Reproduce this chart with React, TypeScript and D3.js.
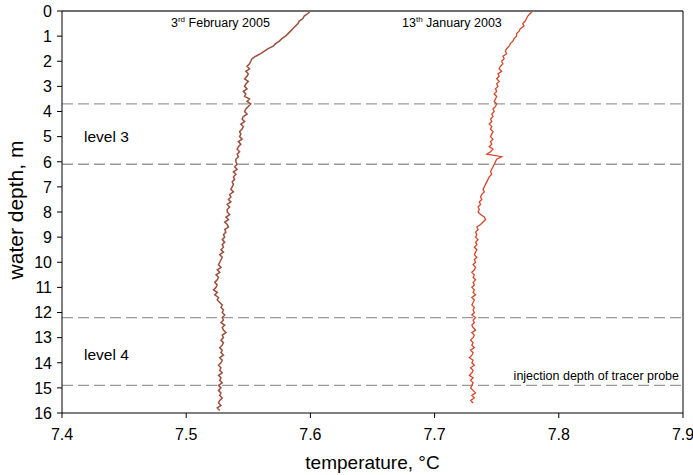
import React from "react";
import * as d3 from "d3";

// depth sampling step of both profiles (m)
const DEPTH_STEP = 0.1;

// 3rd February 2005 profile: temperature (°C) every 0.1 m from 0 m
const temp2005 = [
  7.600, 7.598, 7.595, 7.594, 7.591, 7.590, 7.588, 7.586, 7.584, 7.582,
  7.580, 7.577, 7.575, 7.572, 7.570, 7.566, 7.563, 7.560, 7.556, 7.553,
  7.552, 7.551, 7.549, 7.551, 7.548, 7.550, 7.549, 7.547, 7.550, 7.548,
  7.547, 7.549, 7.546, 7.548, 7.547, 7.551, 7.549, 7.552, 7.550, 7.548,
  7.547, 7.549, 7.546, 7.545, 7.547, 7.544, 7.546, 7.545, 7.543, 7.544,
  7.543, 7.545, 7.542, 7.544, 7.542, 7.541, 7.543, 7.541, 7.542, 7.540,
  7.540, 7.541, 7.539, 7.541, 7.538, 7.540, 7.538, 7.539, 7.537, 7.538,
  7.537, 7.536, 7.538, 7.535, 7.536, 7.534, 7.536, 7.533, 7.535, 7.533,
  7.533, 7.535, 7.532, 7.534, 7.531, 7.533, 7.534, 7.531, 7.532, 7.530,
  7.531, 7.529, 7.531, 7.529, 7.530, 7.528, 7.530, 7.527, 7.529, 7.528,
  7.527, 7.526, 7.528, 7.525, 7.527, 7.524, 7.526, 7.525, 7.523, 7.525,
  7.524, 7.522, 7.525, 7.523, 7.526, 7.525, 7.527, 7.529, 7.528, 7.530,
  7.529, 7.531, 7.529, 7.530, 7.528, 7.531, 7.529, 7.530, 7.532, 7.529,
  7.530, 7.528, 7.530, 7.529, 7.527, 7.529, 7.528, 7.530, 7.527, 7.529,
  7.528, 7.526, 7.528, 7.527, 7.529, 7.526, 7.528, 7.527, 7.529, 7.526,
  7.528, 7.526, 7.528, 7.527, 7.529, 7.527, 7.526, 7.528, 7.525, 7.527,
];

// 13th January 2003 profile: temperature (°C) every 0.1 m from 0 m
const temp2003 = [
  7.779, 7.777, 7.775, 7.774, 7.773, 7.771, 7.772, 7.769, 7.768, 7.766,
  7.766, 7.764, 7.763, 7.761, 7.760, 7.758, 7.757, 7.758, 7.755, 7.756,
  7.754, 7.755, 7.753, 7.752, 7.754, 7.751, 7.752, 7.750, 7.752, 7.750,
  7.751, 7.749, 7.750, 7.748, 7.750, 7.749, 7.748, 7.750, 7.749, 7.747,
  7.748, 7.746, 7.747, 7.745, 7.746, 7.744, 7.746, 7.745, 7.747, 7.746,
  7.745, 7.747, 7.745, 7.746, 7.744, 7.747, 7.745, 7.742, 7.754, 7.750,
  7.749, 7.748, 7.747, 7.746, 7.745, 7.746, 7.744, 7.743, 7.742, 7.741,
  7.740, 7.739, 7.740, 7.738, 7.737, 7.738, 7.736, 7.737, 7.735, 7.736,
  7.735, 7.737, 7.740, 7.741, 7.739, 7.737, 7.734, 7.735, 7.733, 7.734,
  7.733, 7.735, 7.733, 7.734, 7.732, 7.734, 7.733, 7.732, 7.734, 7.732,
  7.733, 7.731, 7.733, 7.732, 7.730, 7.732, 7.731, 7.733, 7.731, 7.732,
  7.730, 7.732, 7.731, 7.733, 7.730, 7.732, 7.731, 7.730, 7.732, 7.731,
  7.732, 7.730, 7.733, 7.731, 7.732, 7.730, 7.731, 7.733, 7.730, 7.732,
  7.731, 7.729, 7.731, 7.730, 7.732, 7.729, 7.731, 7.730, 7.728, 7.731,
  7.730, 7.732, 7.729, 7.731, 7.730, 7.728, 7.731, 7.729, 7.731, 7.730,
  7.729, 7.731, 7.733, 7.730, 7.732, 7.729, 7.731,
];

// horizontal reference lines (depth, m)
const refDepths = [3.7, 6.1, 12.2, 14.9];

const xTicks = [7.4, 7.5, 7.6, 7.7, 7.8, 7.9];
const yTicks = d3.range(0, 17, 1);

const W = 693;
const H = 475;
const M = { left: 62, right: 10, top: 11, bottom: 62 };
const FONT = "'Liberation Sans', Arial, sans-serif";

export default function App() {
  const x = d3.scaleLinear().domain([7.4, 7.9]).range([M.left, W - M.right]);
  const y = d3.scaleLinear().domain([0, 16]).range([M.top, H - M.bottom]);

  const line = d3
    .line<number>()
    .x((t) => x(t))
    .y((_, i) => y(i * DEPTH_STEP));

  const x0 = x(7.4);
  const x1 = x(7.9);
  const y0 = y(0);
  const y1 = y(16);

  return (
    <svg
      width={W}
      height={H}
      style={{ position: "absolute", left: 0, top: 0, background: "#fff" }}
      fontFamily={FONT}
    >
      {/* reference dashed lines */}
      {refDepths.map((d) => (
        <line
          key={d}
          x1={x0}
          x2={x1}
          y1={y(d)}
          y2={y(d)}
          stroke="#9a9a9a"
          strokeWidth={1.3}
          strokeDasharray="11,5"
        />
      ))}

      {/* profiles */}
      <path d={line(temp2005) || ""} fill="none" stroke="#9b4f3e" strokeWidth={1.5} />
      <path d={line(temp2003) || ""} fill="none" stroke="#d4462b" strokeWidth={1.3} />

      {/* frame */}
      <line x1={x0} x2={x1} y1={y0} y2={y0} stroke="#6f6f6f" strokeWidth={2} />
      <line x1={x1} x2={x1} y1={y0} y2={y1} stroke="#000" strokeWidth={1} />
      <line x1={x0} x2={x1} y1={y1} y2={y1} stroke="#000" strokeWidth={1} />
      <line x1={x0} x2={x0} y1={y0} y2={y1} stroke="#000" strokeWidth={1} />

      {/* y ticks */}
      {yTicks.map((t) => (
        <g key={t}>
          <line x1={x0 - 5} x2={x0} y1={y(t)} y2={y(t)} stroke="#000" />
          <text
            x={x0 - 10}
            y={y(t)}
            dy="0.36em"
            textAnchor="end"
            fontSize={16}
            fill="#000"
          >
            {t}
          </text>
        </g>
      ))}

      {/* x ticks */}
      {xTicks.map((t) => (
        <g key={t}>
          <line x1={x(t)} x2={x(t)} y1={y1} y2={y1 + 5} stroke="#000" />
          <text
            x={x(t)}
            y={y1 + 27}
            textAnchor="middle"
            fontSize={16}
            fill="#000"
          >
            {t.toFixed(1)}
          </text>
        </g>
      ))}

      {/* axis titles */}
      <text
        x={(x0 + x1) / 2}
        y={H - 6}
        textAnchor="middle"
        fontSize={19}
        fill="#000"
      >
        temperature, °C
      </text>
      <text
        transform={`translate(23, ${(y0 + y1) / 2 - 2}) rotate(-90)`}
        textAnchor="middle"
        fontSize={21}
        fill="#000"
      >
        water depth, m
      </text>

      {/* series labels */}
      <text x={171} y={27} fontSize={12.5} fill="#000">
        3<tspan dy={-5} fontSize={8}>rd</tspan>
        <tspan dy={5}> February 2005</tspan>
      </text>
      <text x={402} y={27} fontSize={12.5} fill="#000">
        13<tspan dy={-5} fontSize={8}>th</tspan>
        <tspan dy={5}> January 2003</tspan>
      </text>

      {/* level labels */}
      <text x={84} y={142} fontSize={15.5} fill="#000">
        level 3
      </text>
      <text x={84} y={360} fontSize={15.5} fill="#000">
        level 4
      </text>

      <text x={679} y={y(14.9) - 5} textAnchor="end" fontSize={12.5} fill="#000">
        injection depth of tracer probe
      </text>
    </svg>
  );
}
